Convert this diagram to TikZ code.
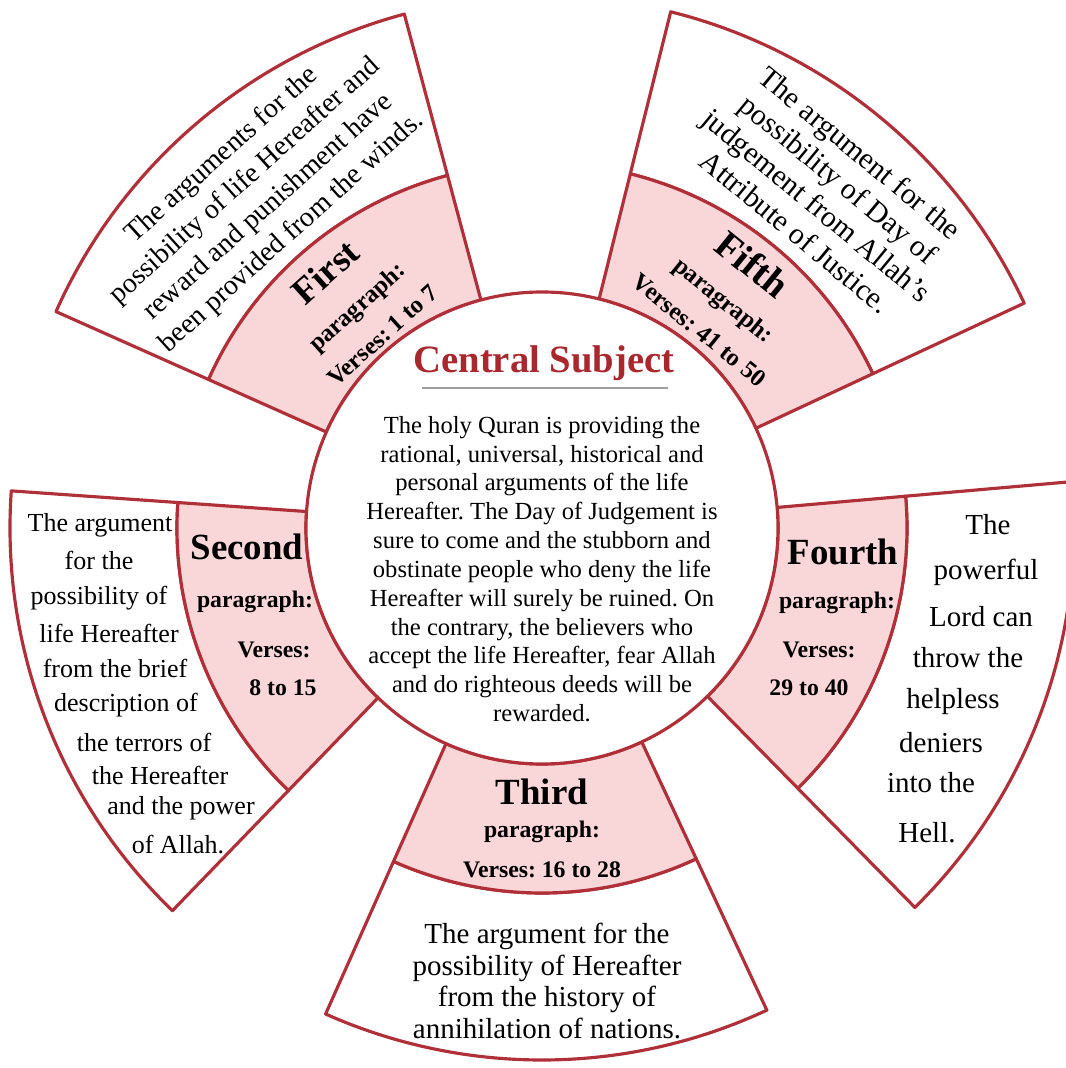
\documentclass[tikz,border=0pt]{standalone}
\usepackage{fontspec}
\setmainfont{Liberation Serif}
\usepackage{tikz}
\usetikzlibrary{positioning}
\frenchspacing
\definecolor{rim}{HTML}{B0303A}
\definecolor{blush}{HTML}{F9D6D7}
\definecolor{crimson}{HTML}{A8282E}
\tikzset{band/.style={draw=rim,line width=1.8pt,line join=round},inband/.style={band,fill=blush},outband/.style={band,fill=white},
bigtag/.style={font=\bfseries\fontsize{21}{23}\selectfont,inner sep=0pt},smalltag/.style={font=\bfseries\fontsize{13.5}{16}\selectfont,inner sep=0pt},
desc/.style={font=\fontsize{14.8}{17}\selectfont,inner sep=0pt},widedesc/.style={font=\fontsize{16.5}{18}\selectfont,inner sep=0pt}}

\begin{document}
\begin{tikzpicture}
\useasboundingbox (-10.84,-10.80) rectangle (10.46,10.56);
% five sectors round the centre
\foreach \a/\b in {105/156,25/76,-45.5/5,246/295,176/226}{
  \draw[outband] (\a:7.3) arc[start angle=\a,end angle=\b,radius=7.3]--(\b:10.64) arc[start angle=\b,end angle=\a,radius=10.64]--cycle;
  \draw[inband] (\a:4.72) arc[start angle=\a,end angle=\b,radius=4.72]--(\b:7.3) arc[start angle=\b,end angle=\a,radius=7.3]--cycle;
}
\draw[band,fill=white] (0,0) circle[radius=4.72];
% centre
\node[font=\bfseries\fontsize{22}{24}\selectfont,text=crimson] (central) at (0.04,3.3) {Central Subject};
\draw[gray!75,line width=1.2pt] (-2.4,2.8)--(2.52,2.8);
\node[align=center,font=\fontsize{14}{16.4}\selectfont,inner sep=0pt] (subject) at (0,-0.82) {The holy Quran is providing the\\rational, universal, historical and\\personal arguments of the life\\Hereafter. The Day of Judgement is\\sure to come and the stubborn and\\obstinate people who deny the life\\Hereafter will surely be ruined. On\\the contrary, the believers who\\accept the life Hereafter, fear Allah\\and do righteous deeds will be\\rewarded.};
% first
\node[rotate=42,align=center,font=\fontsize{16}{18.8}\selectfont,inner sep=0pt] (firstdesc) at (130.5:8.78) {The arguments for the\\[1pt]possibility of life Hereafter and\\[1pt]reward and punishment have\\[1pt]been provided from the winds.};
\node[rotate=42,align=center,font=\bfseries\fontsize{14}{19}\selectfont,inner sep=0pt] (firstpara) at (130:5.9) {{\fontsize{21}{23}\selectfont First}\\[5pt]paragraph:\\[3pt]Verses: 1 to 7};
% fifth
\node[rotate=-39.5,align=center,font=\fontsize{17}{18.4}\selectfont,inner sep=0pt] (fifthdesc) at (49.6:8.82) {The argument for the\\[1pt]possibility of Day of\\[1pt]judgement from Allah's\\[1pt]Attribute of Justice.};
\node[rotate=-39,align=center,font=\bfseries\fontsize{14}{19}\selectfont,inner sep=0pt] (fifthpara) at (51.4:5.96) {{\fontsize{22}{23}\selectfont Fifth}\\[4pt]paragraph:\\[3pt]Verses: 41 to 50};
% second
\node[bigtag] (second) at (-5.90,-0.38) {Second};
\node[smalltag] (secondpara) at (-5.74,-1.48) {paragraph:};
\node[smalltag] (secondverse) at (-5.36,-2.44) {Verses:};
\node[smalltag] (secondnum) at (-5.18,-3.20) {8 to 15};
\node[desc] (sd1) at (-8.84,0.06) {The argument};
\node[desc] (sd2) at (-8.86,-0.64) {for the};
\node[desc] (sd3) at (-8.86,-1.40) {possibility of};
\node[desc] (sd4) at (-8.66,-2.10) {life Hereafter};
\node[desc] (sd5) at (-8.54,-2.80) {from the brief};
\node[desc] (sd6) at (-8.32,-3.54) {description of};
\node[desc] (sd7) at (-7.96,-4.28) {the terrors of};
\node[desc] (sd8) at (-7.64,-4.94) {the Hereafter};
\node[desc] (sd9) at (-7.22,-5.60) {and the power};
\node[desc] (sd10) at (-7.28,-6.34) {of Allah.};
% fourth
\node[bigtag] (fourth) at (6.02,-0.48) {Fourth};
\node[smalltag] (fourthpara) at (5.90,-1.50) {paragraph:};
\node[smalltag] (fourthverse) at (5.54,-2.44) {Verses:};
\node[smalltag] (fourthnum) at (5.34,-3.20) {29 to 40};
\node[widedesc] (fd1) at (8.92,0.06) {The};
\node[widedesc] (fd2) at (8.88,-0.88) {powerful};
\node[widedesc] (fd3) at (8.78,-1.78) {Lord can};
\node[widedesc] (fd4) at (8.52,-2.60) {throw the};
\node[widedesc] (fd5) at (8.22,-3.48) {helpless};
\node[widedesc] (fd6) at (7.98,-4.30) {deniers};
\node[widedesc] (fd7) at (7.78,-5.10) {into the};
\node[widedesc] (fd8) at (7.70,-6.10) {Hell.};
% third
\node[bigtag] (third) at (0,-5.28) {Third};
\node[smalltag] (thirdpara) at (0,-6.08) {paragraph:};
\node[smalltag] (thirdverse) at (0,-6.84) {Verses: 16 to 28};
\node[align=center,font=\fontsize{16.5}{18}\selectfont,inner sep=0pt] (thirddesc) at (0.1,-9.06) {The argument for the\\possibility of Hereafter\\from the history of\\annihilation of nations.};
\end{tikzpicture}
\end{document}
